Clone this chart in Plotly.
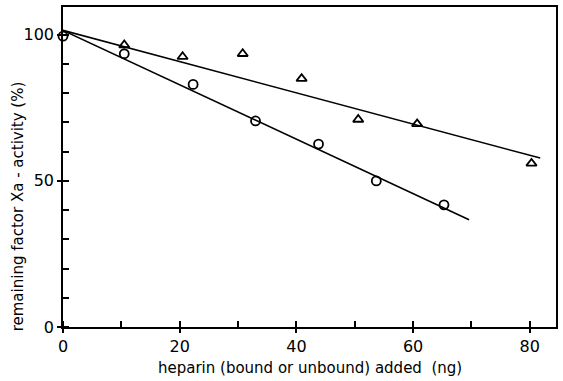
import plotly.graph_objects as go

# Data
circle_x = [0, 10.5, 22.3, 33, 43.8, 53.7, 65.3]
circle_y = [99.5, 93.5, 83, 70.5, 62.6, 50, 41.8]
tri_x = [10.5, 20.5, 30.8, 40.9, 50.6, 60.7, 80.3]
tri_y = [96.5, 92.5, 93.5, 85, 71, 69.5, 56]
fit_circle_x = [0, 69.6]
fit_circle_y = [101.5, 36.7]
fit_tri_x = [0, 81.8]
fit_tri_y = [101.5, 57.8]

x_range = [0, 84.5]
y_range = [0, 109.5]
x_label_step = 20
y_label_step = 50
minor_step = 10

font_family = "DejaVu Sans"
black = "black"

fig = go.Figure()
fig.add_trace(go.Scatter(x=fit_circle_x, y=fit_circle_y, mode="lines",
                         line=dict(color=black, width=1.6), showlegend=False))
fig.add_trace(go.Scatter(x=fit_tri_x, y=fit_tri_y, mode="lines",
                         line=dict(color=black, width=1.6), showlegend=False))
fig.add_trace(go.Scatter(x=circle_x, y=circle_y, mode="markers",
                         marker=dict(symbol="circle-open", size=9, color=black,
                                     line=dict(width=1.8)), showlegend=False, cliponaxis=False))
fig.add_trace(go.Scatter(x=tri_x, y=tri_y, mode="markers",
                         marker=dict(symbol="triangle-up-open", size=9, color=black,
                                     line=dict(width=1.8)), showlegend=False, cliponaxis=False))

axis_common = dict(zeroline=False, gridcolor="white", showline=True, linecolor=black,
                   linewidth=1.6, mirror=True, ticks="outside", ticklen=4,
                   tickcolor=black, tickwidth=1.6, tick0=0,
                   tickfont=dict(family=font_family, size=16, color=black),
                   minor=dict(dtick=minor_step, ticks="inside", ticklen=6, tickcolor=black))

fig.update_layout(
    width=563, height=381,
    margin=dict(l=63, r=6, t=5, b=54),
    paper_bgcolor="white", plot_bgcolor="white",
    xaxis=dict(range=x_range, dtick=x_label_step, **axis_common),
    yaxis=dict(range=y_range, dtick=y_label_step, **axis_common),
    annotations=[
        dict(text="heparin (bound or unbound) added  (ng)", xref="paper", yref="paper",
             x=0.5, y=-0.128, xanchor="center", yanchor="middle", showarrow=False,
             font=dict(family=font_family, size=15, color=black)),
        dict(text="remaining factor Xa - activity (%)", xref="paper", yref="paper",
             x=-0.092, y=0.376, xanchor="center", yanchor="middle", textangle=-90,
             showarrow=False, font=dict(family=font_family, size=15, color=black)),
    ],
)

fig.write_html("out.html")
